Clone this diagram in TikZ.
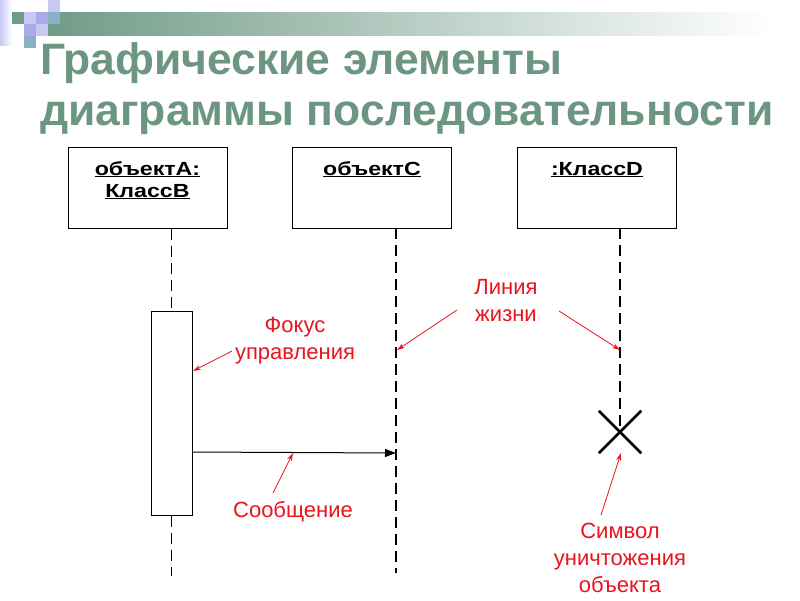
\documentclass[tikz,border=0pt]{standalone}
\usepackage{fontspec}
\setmainfont{Liberation Sans}
\usetikzlibrary{arrows.meta,shapes.misc}
\definecolor{titlegreen}{RGB}{108,150,130}
\definecolor{barGreen}{RGB}{112,155,135}
\definecolor{lav}{RGB}{200,200,245}
\definecolor{lavm}{RGB}{170,170,235}
\definecolor{tealb}{RGB}{140,175,200}
\definecolor{annred}{RGB}{232,20,30}
\tikzset{
  objbox/.style={draw=black, line width=1pt, minimum width=159pt, minimum height=81pt, inner sep=0pt},
  objtext/.style={font=\fontsize{19}{22}\selectfont\bfseries, anchor=base, inner sep=0pt, xscale=1.22},
  life/.style={line width=1.5pt, dash pattern=on 11pt off 6pt},
  ann/.style={text=annred, font=\fontsize{22}{27}\selectfont, align=center, inner sep=0pt},
  annarrow/.style={draw=annred, line width=0.8pt, -{Stealth[length=8pt,width=5pt]}},
  msg/.style={draw=black, line width=1pt, -{Triangle[length=11pt,width=8pt]}},
  ttl/.style={font=\fontsize{44}{50}\selectfont\bfseries, anchor=base west, inner sep=0pt, xscale=1.01}
}
\begin{document}
\begin{tikzpicture}[x=1pt,y=-1pt]
\useasboundingbox (0,0) rectangle (800,600);
\fill[white] (0,0) rectangle (800,600);
% decoration
\shade[left color=lav, right color=white] (0,0) rectangle (12,45);
\shade[left color=barGreen, right color=white] (48,12) rectangle (770,35);
\fill[lav] (48,0) rectangle (60,12);
\fill[barGreen] (12,12) rectangle (24,24);
\fill[lav] (24,12) rectangle (36,24);
\fill[lavm] (36,12) rectangle (48,24);
\fill[tealb] (48,12) rectangle (60,24);
\fill[lavm] (24,24) rectangle (36,36);
\fill[lav] (36,24) rectangle (48,36);
\fill[tealb] (24,36) rectangle (36,48);
% title
\node[ttl, text=titlegreen] (t1) at (40,74) {Графические элементы};
\node[ttl, text=titlegreen] (t2) at (40,125) {диаграммы последовательности};
% objects
\node[objbox] (A) at (147.5,187.5) {};
\node[objbox] (C) at (372,187.5) {};
\node[objbox] (D) at (597,187.5) {};
\node[objtext] (Atxt1) at (147.5,175) {\underline{объектA:}};
\node[objtext] (Atxt2) at (147.5,197) {\underline{КлассB}};
\node[objtext] (Ctxt) at (372,175) {\underline{объектC}};
\node[objtext] (Dtxt) at (597,175) {\underline{:КлассD}};
% activation
\node[draw=black, line width=1pt, minimum width=41pt, minimum height=204pt, inner sep=0pt] (act) at (171.5,413) {};
\coordinate (Aend) at (171.5,576);
\coordinate (Cend) at (396,573);
% destruction
\node[cross out, draw=black, line width=2.5pt, minimum size=40pt, inner sep=0pt] (X) at (620,432) {};
% lifelines
\draw[life] (A.south -| act.north) -- (act.north);
\draw[life] (act.south) -- (Aend);
\draw[life] (396,228) coordinate (Ctop) -- (Cend);
\draw[life] (620,228) coordinate (Dtop) -- (X.center);
% message
\coordinate (msgend) at (396,453);
\draw[msg] (act.east |- 0,452) coordinate (msgstart) -- (msgend);
% annotations
\node[ann] (fokus) at (295,341) {Фокус\\управления};
\node[ann] (life) at (506,301) {Линия\\жизни};
\node[ann] (soob) at (293,512) {Сообщение};
\node[ann] (simv) at (620,558) {Символ\\уничтожения\\объекта};
\coordinate (f1) at (232,351);
\coordinate (f2) at (193,371);
\draw[annarrow] (f1) -- (f2);
\coordinate (l1) at (457,310);
\coordinate (l2) at (397,350);
\draw[annarrow] (l1) -- (l2);
\coordinate (l3) at (559,311);
\coordinate (l4) at (620,350);
\draw[annarrow] (l3) -- (l4);
\coordinate (s1) at (273,493);
\coordinate (s2) at (293,453);
\draw[annarrow] (s1) -- (s2);
\coordinate (x1) at (601,515);
\coordinate (x2) at (621,453);
\draw[annarrow] (x1) -- (x2);
\end{tikzpicture}
\end{document}
